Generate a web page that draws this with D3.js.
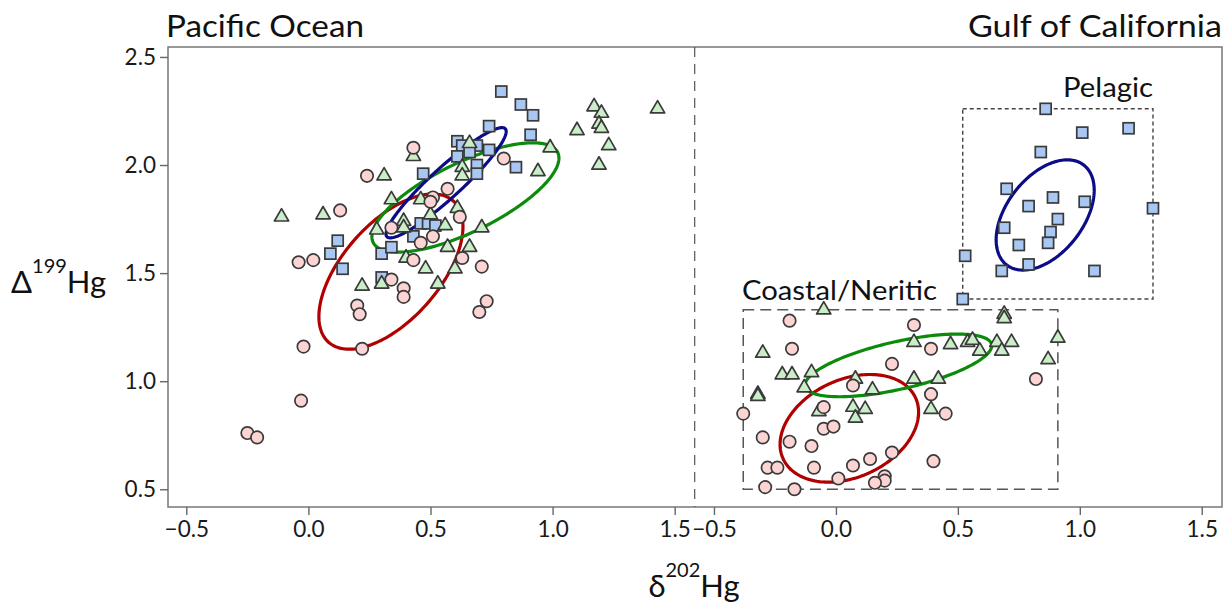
<!DOCTYPE html>
<html>
<head>
<meta charset="utf-8">
<script src="https://cdn.jsdelivr.net/npm/d3@7"></script>
<style>
  html, body { margin: 0; padding: 0; background: #fff; }
  svg { display: block; font-family: Lato, "Open Sans", sans-serif; }
</style>
</head>
<body>
<svg id="chart" width="1229" height="603"></svg>
<script>
// ---------------- DATA ----------------
const xTicks = [-0.5, 0.0, 0.5, 1.0, 1.5];
const yTicks = [0.5, 1.0, 1.5, 2.0, 2.5];
const panelTitles = ["Pacific Ocean", "Gulf of California"];
const groupLabels = ["Pelagic", "Coastal/Neritic"];

// Pacific Ocean (left panel) [δ202Hg, Δ199Hg]
const pacificCircles = [
  [-0.25,0.76],[-0.21,0.74],[-0.03,0.91],[-0.02,1.16],[0.22,1.15],[0.20,1.35],[0.21,1.31],
  [-0.04,1.55],[0.02,1.56],[0.34,1.47],[0.39,1.43],[0.39,1.39],[0.43,1.56],[0.13,1.79],
  [0.24,1.95],[0.43,2.08],[0.80,2.03],[0.57,1.89],[0.51,1.85],[0.50,1.83],[0.34,1.71],
  [0.62,1.76],[0.51,1.67],[0.46,1.64],[0.63,1.57],[0.71,1.53],[0.73,1.37],[0.70,1.32]
];
const pacificSquares = [
  [0.12,1.65],[0.09,1.59],[0.14,1.52],[0.30,1.59],[0.34,1.62],[0.30,1.48],[0.43,1.67],
  [0.46,1.73],[0.49,1.73],[0.52,1.72],[0.47,1.96],[0.61,2.11],[0.63,2.09],[0.69,2.09],
  [0.74,2.07],[0.61,2.04],[0.66,2.06],[0.69,2.00],[0.69,1.96],[0.74,2.18],[0.79,2.34],
  [0.87,2.28],[0.92,2.23],[0.91,2.14],[0.85,1.99]
];
const pacificTriangles = [
  [-0.11,1.76],[0.06,1.77],[0.31,1.95],[0.43,2.04],[0.34,1.84],[0.46,1.84],[0.28,1.70],
  [0.39,1.74],[0.39,1.71],[0.50,1.77],[0.56,1.72],[0.61,1.80],[0.63,1.99],[0.63,1.95],
  [0.66,2.10],[0.57,1.62],[0.66,1.62],[0.71,1.71],[0.40,1.57],[0.48,1.52],[0.60,1.52],
  [0.53,1.45],[0.22,1.44],[0.30,1.45],[0.99,2.08],[0.94,1.97],[1.10,2.16],[1.17,2.27],
  [1.20,2.24],[1.19,2.19],[1.23,2.09],[1.19,2.00],[1.43,2.26],[1.20,2.17]
];

// Gulf of California (right panel)
const gulfCircles = [
  [-0.19,1.28],[-0.18,1.15],[0.32,1.26],[0.39,1.15],[0.23,1.08],[0.07,0.98],[-0.05,0.88],
  [0.39,0.94],[0.45,0.85],[0.82,1.01],[-0.38,0.85],[-0.30,0.74],[-0.19,0.72],[-0.10,0.70],
  [-0.05,0.78],[-0.01,0.79],[-0.28,0.60],[-0.24,0.60],[-0.09,0.60],[0.07,0.61],[0.14,0.64],
  [0.23,0.67],[0.40,0.63],[0.01,0.55],[0.20,0.56],[0.20,0.54],[0.16,0.53],[-0.29,0.51],
  [-0.17,0.50]
];
const gulfTriangles = [
  [-0.05,1.33],[0.69,1.31],[0.69,1.29],[-0.30,1.13],[0.32,1.18],[0.47,1.17],[0.54,1.18],
  [0.56,1.19],[0.59,1.14],[0.66,1.18],[0.68,1.14],[0.72,1.18],[0.91,1.20],[0.87,1.10],
  [-0.22,1.03],[-0.18,1.03],[-0.10,1.04],[-0.13,0.97],[0.08,1.01],[0.15,0.96],[0.32,1.01],
  [0.42,1.01],[-0.32,0.94],[-0.32,0.93],[-0.07,0.86],[0.07,0.88],[0.12,0.87],[0.08,0.83],
  [0.39,0.87]
];
const gulfSquares = [
  [0.86,2.26],[1.01,2.15],[1.20,2.17],[0.84,2.06],[0.70,1.89],[0.79,1.81],[0.89,1.85],
  [1.02,1.83],[1.30,1.80],[0.91,1.75],[0.69,1.71],[0.88,1.69],[0.75,1.63],[0.87,1.64],
  [0.53,1.58],[0.68,1.51],[0.79,1.54],[1.06,1.51],[0.52,1.38]
];

// Ellipses: [centerX, centerY, halfWidthX, halfHeightY, correlation]
const pacificEllipses = {
  red:   [0.338, 1.507, 0.295, 0.359, 0.58],
  green: [0.643, 1.850, 0.383, 0.253, 0.72],
  blue:  [0.564, 1.918, 0.246, 0.255, 0.93]
};
const gulfEllipses = {
  red:   [0.055, 0.782, 0.284, 0.249, 0.30],
  green: [0.256, 1.073, 0.383, 0.145, 0.63],
  blue:  [0.858, 1.769, 0.201, 0.255, 0.45]
};

// ---------------- STYLE ----------------
const colors = {
  circleFill: "#fdd4d4", squareFill: "#a9c7f3", triFill: "#c9eec8", markerStroke: "#3a3a3a",
  red: "#b00000", green: "#0b8a0b", blue: "#0c0c88"
};

// ---------------- LAYOUT ----------------
const svg = d3.select("#chart");
const plot = {left: 168, right: 1222, top: 47, bottom: 507, split: 694.7};

const xL = d3.scaleLinear().domain([-0.575, 1.582]).range([plot.left, plot.split]);
const xR = d3.scaleLinear().domain([-0.579, 1.583]).range([plot.split, plot.right]);
const y  = d3.scaleLinear().domain([0.418, 2.546]).range([plot.bottom, plot.top]);
const fmt = d3.format(".1f");

// frame
svg.append("rect")
  .attr("x", plot.left).attr("y", plot.top)
  .attr("width", plot.right - plot.left).attr("height", plot.bottom - plot.top)
  .attr("fill", "none").attr("stroke", "#777").attr("stroke-width", 1.5);

// divider
svg.append("line")
  .attr("x1", plot.split).attr("x2", plot.split)
  .attr("y1", plot.top).attr("y2", plot.bottom)
  .attr("stroke", "#555").attr("stroke-width", 1.2).attr("stroke-dasharray", "10,7");

// axes
function styleAxis(g) {
  g.select(".domain").remove();
  g.selectAll(".tick line").attr("stroke", "#666").attr("stroke-width", 1.4);
  g.selectAll(".tick text").attr("fill", "#1a1a1a").attr("font-size", 22.5)
    .attr("font-family", "Lato, 'Open Sans', sans-serif");
}
svg.append("g").attr("transform", `translate(0,${plot.bottom})`)
  .call(d3.axisBottom(xL).tickValues(xTicks).tickFormat(fmt).tickSize(8).tickPadding(6))
  .call(styleAxis);
svg.append("g").attr("transform", `translate(0,${plot.bottom})`)
  .call(d3.axisBottom(xR).tickValues(xTicks).tickFormat(fmt).tickSize(8).tickPadding(6))
  .call(styleAxis);
svg.append("g").attr("transform", `translate(${plot.left},0)`)
  .call(d3.axisLeft(y).tickValues(yTicks).tickFormat(fmt).tickSize(8).tickPadding(4))
  .call(styleAxis);

// group boxes from data extents
function box(pts, xs, dash, width, color) {
  const ex = d3.extent(pts, d => d[0]), ey = d3.extent(pts, d => d[1]);
  svg.append("rect")
    .attr("x", xs(ex[0])).attr("y", y(ey[1]))
    .attr("width", xs(ex[1]) - xs(ex[0])).attr("height", y(ey[0]) - y(ey[1]))
    .attr("fill", "none").attr("stroke", color).attr("stroke-width", width)
    .attr("stroke-dasharray", dash);
}
box(gulfSquares, xR, "4,3", 1.4, "#444");
box(gulfCircles.concat(gulfTriangles), xR, "11,6", 1.5, "#555");

// ellipses
function ellipse(p, xs, color) {
  const [cx, cy, sx, sy, r] = p;
  const dphi = Math.acos(r);
  const ts = d3.range(0, 361, 2).map(a => a * Math.PI / 180);
  const line = d3.line().x(t => xs(cx + sx * Math.cos(t))).y(t => y(cy + sy * Math.cos(t - dphi)))
    .curve(d3.curveLinearClosed);
  svg.append("path").attr("d", line(ts)).attr("fill", "none")
    .attr("stroke", color).attr("stroke-width", 3.2);
}
ellipse(pacificEllipses.red, xL, colors.red);
ellipse(pacificEllipses.green, xL, colors.green);
ellipse(pacificEllipses.blue, xL, colors.blue);
ellipse(gulfEllipses.red, xR, colors.red);
ellipse(gulfEllipses.green, xR, colors.green);
ellipse(gulfEllipses.blue, xR, colors.blue);

// markers
function squares(pts, xs) {
  svg.append("g").selectAll("rect").data(pts).join("rect")
    .attr("x", d => xs(d[0]) - 5.5).attr("y", d => y(d[1]) - 5.5)
    .attr("width", 11).attr("height", 11)
    .attr("fill", colors.squareFill).attr("stroke", colors.markerStroke).attr("stroke-width", 1.7);
}
function triangles(pts, xs) {
  const sym = d3.symbol(d3.symbolTriangle, 88);
  svg.append("g").selectAll("path").data(pts).join("path")
    .attr("d", sym).attr("transform", d => `translate(${xs(d[0])},${y(d[1])})`)
    .attr("fill", colors.triFill).attr("stroke", colors.markerStroke).attr("stroke-width", 1.7)
    .attr("stroke-linejoin", "round");
}
function circles(pts, xs) {
  svg.append("g").selectAll("circle").data(pts).join("circle")
    .attr("cx", d => xs(d[0])).attr("cy", d => y(d[1])).attr("r", 6.2)
    .attr("fill", colors.circleFill).attr("stroke", colors.markerStroke).attr("stroke-width", 1.7);
}
squares(pacificSquares, xL); triangles(pacificTriangles, xL); circles(pacificCircles, xL);
squares(gulfSquares, xR); triangles(gulfTriangles, xR); circles(gulfCircles, xR);

// titles
svg.append("text").attr("x", 166).attr("y", 37).attr("font-size", 31)
  .attr("textLength", 198).attr("lengthAdjust", "spacingAndGlyphs")
  .attr("fill", "#111").text(panelTitles[0]);
svg.append("text").attr("x", 968).attr("y", 37).attr("font-size", 31)
  .attr("textLength", 254).attr("lengthAdjust", "spacingAndGlyphs")
  .attr("fill", "#111").text(panelTitles[1]);
svg.append("text").attr("x", 1063).attr("y", 97).attr("font-size", 26)
  .attr("textLength", 90).attr("lengthAdjust", "spacingAndGlyphs")
  .attr("fill", "#111").text(groupLabels[0]);
svg.append("text").attr("x", 742).attr("y", 300).attr("font-size", 26)
  .attr("textLength", 195).attr("lengthAdjust", "spacingAndGlyphs")
  .attr("fill", "#111").text(groupLabels[1]);

// axis titles
const yl = svg.append("text").attr("x", 11).attr("y", 293).attr("font-size", 31).attr("fill", "#111");
yl.append("tspan").text("Δ");
yl.append("tspan").attr("font-size", 20).attr("dy", -20).text("199");
yl.append("tspan").attr("dy", 20).text("Hg");

const xlab = svg.append("text").attr("x", 694).attr("y", 597).attr("font-size", 31)
  .attr("text-anchor", "middle").attr("fill", "#111");
xlab.append("tspan").text("δ");
xlab.append("tspan").attr("font-size", 20).attr("dy", -20).text("202");
xlab.append("tspan").attr("dy", 20).text("Hg");
</script>
</body>
</html>
